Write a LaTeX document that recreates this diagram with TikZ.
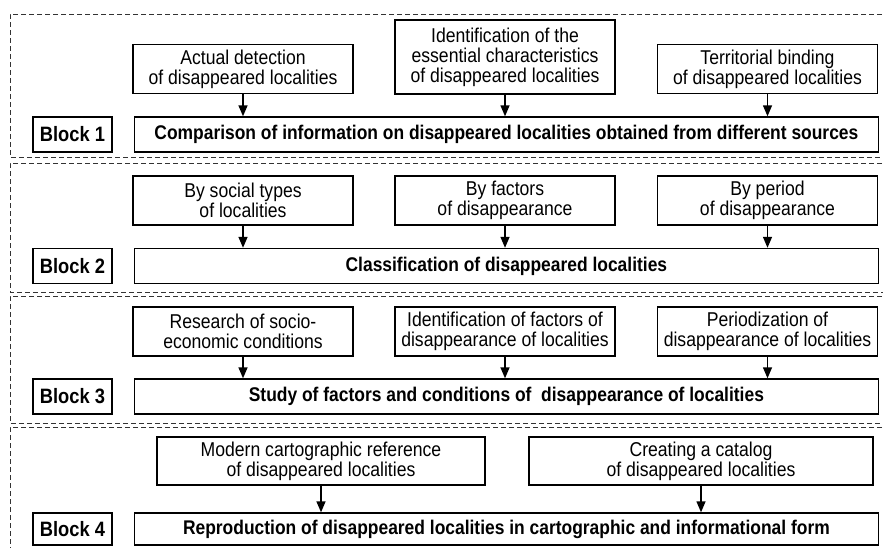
\documentclass[tikz,border=0pt]{standalone}
\usepackage{fontspec}
\setmainfont[FakeStretch=0.88]{Liberation Sans}
\usetikzlibrary{positioning,arrows.meta}

\begin{document}
\begin{tikzpicture}[x=1pt,y=-1pt,
   step box/.style={draw,line width=1.4pt,inner sep=0pt,align=center,
     minimum width=#1,minimum height=49pt,
     font=\fontsize{20}{20}\selectfont},
   step box/.default=220pt,
   main box/.style={draw,line width=1.4pt,inner sep=0pt,minimum width=744pt,
     minimum height=35pt,font=\fontsize{19.8}{20}\selectfont\bfseries},
   block label/.style={draw,line width=1.4pt,inner sep=0pt,minimum width=79pt,
     minimum height=35pt,font=\fontsize{20.8}{20}\selectfont\bfseries},
   frame/.style={draw=black!80,line width=0.7pt,dash pattern=on 5pt off 3pt},
   link/.style={-{Triangle[width=9pt,length=11pt]},line width=1.4pt},
   node distance=21pt]
 \useasboundingbox (0,0) rectangle (883,547);

 %cornici tratteggiate dei blocchi
 \draw[frame] (890,14)  -- (10,14)  -- (10,157) -- (890,157);
 \draw[frame] (890,163) -- (10,163) -- (10,292) -- (890,292);
 \draw[frame] (890,296) -- (10,296) -- (10,423) -- (890,423);
 \draw[frame] (890,427) -- (10,427) -- (10,560);

 %blocco 1
 \node[block label] (lab1) at (72.5,134.5) {Block 1};
 \node[main box, right=of lab1] (main1)
   {Comparison of information on disappeared localities obtained from different sources};
 \node[step box] (det1) at (243,69) {Actual detection\\of disappeared localities};
 \node[step box, minimum height=74pt] (ess1) at (505,57)
   {Identification of the\\essential characteristics\\of disappeared localities};
 \node[step box] (ter1) at (767.5,69) {Territorial binding\\of disappeared localities};
 \draw[link] (det1) -- (det1|-main1.north);
 \draw[link] (ess1) -- (ess1|-main1.north);
 \draw[link] (ter1) -- (ter1|-main1.north);

 %blocco 2
 \node[block label] (lab2) at (72.5,266) {Block 2};
 \node[main box, right=of lab2] (main2) {Classification of disappeared localities};
 \node[step box] (soc2) at (243,200.5) {By social types\\of localities};
 \node[step box] (fac2) at (505,200.5) {By factors\\of disappearance};
 \node[step box] (per2) at (767.5,200.5) {By period\\of disappearance};
 \draw[link] (soc2) -- (soc2|-main2.north);
 \draw[link] (fac2) -- (fac2|-main2.north);
 \draw[link] (per2) -- (per2|-main2.north);

 %blocco 3
 \node[block label] (lab3) at (72.5,396.5) {Block 3};
 \node[main box, right=of lab3] (main3)
   {Study of factors and conditions of\ \ disappearance of localities};
 \node[step box] (res3) at (243,331.5) {Research of socio-\\economic conditions};
 \node[step box] (fac3) at (505,331.5) {Identification of factors of\\disappearance of localities};
 \node[step box] (per3) at (767.5,331.5) {Periodization of\\disappearance of localities};
 \draw[link] (res3) -- (res3|-main3.north);
 \draw[link] (fac3) -- (fac3|-main3.north);
 \draw[link] (per3) -- (per3|-main3.north);

 %blocco 4
 \node[block label, minimum height=32pt] (lab4) at (72.5,529) {Block 4};
 \node[main box, minimum height=32pt, right=of lab4] (main4)
   {Reproduction of disappeared localities in cartographic and informational form};
 \node[step box=328pt, minimum height=48pt] (map4) at (321,461)
   {Modern cartographic reference\\of disappeared localities};
 \node[step box=344pt, minimum height=48pt] (cat4) at (701,461)
   {Creating a catalog\\of disappeared localities};
 \draw[link] (map4) -- (map4|-main4.north);
 \draw[link] (cat4) -- (cat4|-main4.north);
\end{tikzpicture}
\end{document}
